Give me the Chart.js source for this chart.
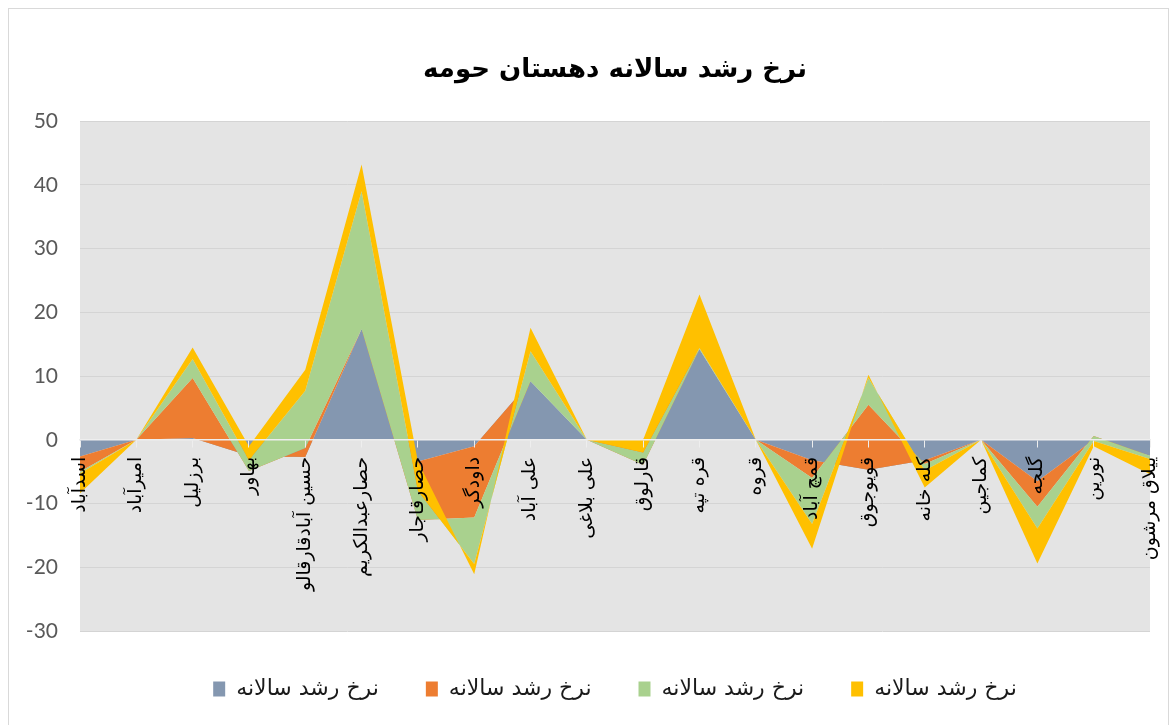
<!DOCTYPE html>
<html>
<head>
<meta charset="utf-8">
<script src="https://cdn.jsdelivr.net/npm/chart.js@4.4.0/dist/chart.umd.min.js"></script>
<style>
  body { margin: 0; background: #fff; }
  #wrap { position: relative; width: 1171px; height: 725px; }
  #frame { position: absolute; left: 8px; top: 8px; width: 1159px; height: 740px; border: 1px solid #d9d9d9; pointer-events: none; }
</style>
</head>
<body>
<div id="wrap">
  <canvas id="chart" width="1171" height="725"></canvas>
  <div id="frame"></div>
</div>
<script>
const categories = [
  'اسدآباد', 'امیرآباد', 'برزلیل', 'بهاور', 'حسین آبادقارقالو',
  'حصارعبدالکریم', 'حصارقاجار', 'داودگر', 'علی آباد', 'علی بلاغی',
  'قارلوق', 'قره تپه', 'قروه', 'قمچ آباد', 'قویوجوق',
  'کله خانه', 'کماجین', 'گلجه', 'نورین', 'ییلاق مرشون'
]

// four series, all labelled the same in the source chart
const seriesName = 'نرخ رشد سالانه'
const blueValues   = [-2.6, 0, 0.3, -2.5, -2.7, 17.4, -3.4, -1.0, 9.2, 0, 0, 14.2, 0, -3.2, -4.7, -3.2, 0, -6.5, 0, -2.5]
const orangeValues = [-2.4, 0, 9.4, -2.4, 1.4, 0, -9.2, -11.2, 0, 0, -3.9, 0, 0, -2.8, 10.2, -0.6, 0, -4.0, 0.6, 0]
const greenValues  = [-0.3, 0, 3.0, 1.7, 9.0, 21.6, 4.6, -7.3, 4.7, 0, 1.9, 0.2, 0, -7.2, 4.2, -1.0, 0, -3.4, -0.8, -0.5]
const yellowValues = [-3.1, 0, 1.8, 2.2, 3.3, 4.2, 4.6, -1.6, 3.7, 0, 2.0, 8.4, 0, -3.9, 0.5, -2.7, 0, -5.5, -0.8, -2.4]

const yTicks = { min: -30, max: 50, step: 10 }
const colors = ['#8497b0', '#ed7d31', '#a9d18e', '#ffc000']

// excel stacks the area straight through the sign, and paints later series on top,
// so running totals are built here and the datasets are handed over last-first
const series = [blueValues, orangeValues, greenValues, yellowValues]
let running = categories.map(() => 0)
const stacked = series.map(values => {
  running = running.map((v, i) => v + values[i])
  return running
})

const datasets = stacked.map((data, i) => ({
  label: seriesName,
  data: data,
  backgroundColor: colors[i],
  borderColor: colors[i],
  borderWidth: 0,
  pointRadius: 0,
  fill: i === 0 ? 'origin' : '+1'
})).reverse()

const plotBackground = {
  id: 'plotBackground',
  beforeDraw(chart) {
    const { ctx, chartArea: a } = chart
    ctx.save()
    ctx.fillStyle = '#e4e4e4'
    ctx.fillRect(a.left, a.top, a.right - a.left, a.bottom - a.top)
    ctx.restore()
  }
}

const arabicFont = "'DejaVu Sans', 'Noto Sans', sans-serif"

new Chart(document.getElementById('chart'), {
  type: 'line',
  data: { labels: categories, datasets: datasets },
  options: {
    responsive: false,
    animation: false,
    devicePixelRatio: 1,
    layout: { padding: { left: 8, right: 21, top: 0, bottom: 15 } },
    elements: { line: { tension: 0 } },
    plugins: {
      tooltip: { enabled: false },
      title: {
        display: true,
        text: 'نرخ رشد سالانه دهستان حومه',
        color: '#000',
        fullSize: false,
        font: { family: arabicFont, size: 26, weight: 'bold' },
        padding: { top: 55, bottom: 35 }
      },
      legend: {
        position: 'bottom',
        fullSize: false,
        reverse: true,
        labels: {
          color: '#1a1a1a',
          boxWidth: 12,
          boxHeight: 15,
          padding: 47,
          font: { family: arabicFont, size: 22 }
        }
      }
    },
    scales: {
      x: {
        position: { y: 0 },
        afterFit: (scale) => {
          scale.paddingLeft = 0
          scale.paddingRight = 0
        },
        grid: { drawOnChartArea: false, color: '#eeeeee', tickLength: 7, tickWidth: 1, z: 1 },
        border: { color: '#eeeeee', width: 1.5, z: 1 },
        ticks: {
          z: 1,
          autoSkip: false,
          minRotation: 90,
          maxRotation: 90,
          padding: 10,
          color: '#000',
          font: { family: arabicFont, size: 19 }
        }
      },
      y: {
        min: yTicks.min,
        max: yTicks.max,
        afterFit: (scale) => { scale.width = 72 },
        grid: { color: '#d4d4d4', drawTicks: false },
        border: { display: false },
        ticks: {
          stepSize: yTicks.step,
          padding: 22,
          color: '#595959',
          font: { family: 'Lato, sans-serif', size: 21 }
        }
      }
    }
  },
  plugins: [plotBackground]
})
</script>
</body>
</html>
